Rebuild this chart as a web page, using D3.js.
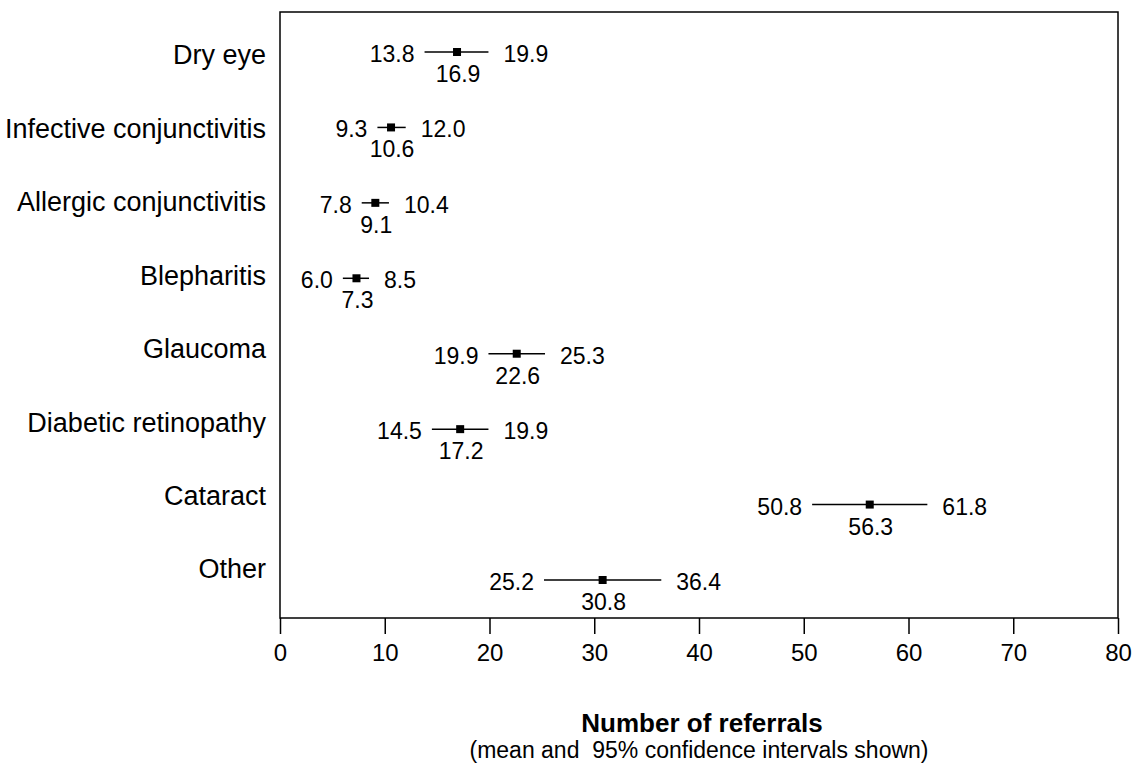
<!DOCTYPE html>
<html><head><meta charset="utf-8">
<script src="https://cdn.jsdelivr.net/npm/d3@7"></script>
<style>body{margin:0;background:#fff}text{font-family:Arial,"Liberation Sans",sans-serif}</style>
</head><body>
<svg id="c" width="1137" height="766"></svg>
<script>
const categories=["Dry eye","Infective conjunctivitis","Allergic conjunctivitis","Blepharitis","Glaucoma","Diabetic retinopathy","Cataract","Other"];
const means=[16.9,10.6,9.1,7.3,22.6,17.2,56.3,30.8];
const lower=[13.8,9.3,7.8,6.0,19.9,14.5,50.8,25.2];
const upper=[19.9,12.0,10.4,8.5,25.3,19.9,61.8,36.4];
const ticks=[0,10,20,30,40,50,60,70,80];

const svg=d3.select("#c");
const L=280,R=1118,T=12,B=618;
const x=d3.scaleLinear().domain([0,80]).range([L,R]);
const y=d3.scalePoint().domain(categories).range([52,580]);
const yl=d3.scalePoint().domain(categories).range([55,569]);

svg.append("rect").attr("x",L).attr("y",T).attr("width",R-L).attr("height",B-T)
  .attr("fill","none").attr("stroke","#000").attr("stroke-width",1.5);

const ax=svg.append("g").attr("transform",`translate(0,${B})`)
  .call(d3.axisBottom(x).tickValues(ticks).tickSize(16).tickPadding(10).tickFormat(d3.format("d")));
ax.select(".domain").remove();
ax.selectAll("line").attr("stroke-width",1.5);
ax.selectAll("text").attr("font-size",24).attr("fill","#000");

svg.append("g").selectAll("text").data(categories).join("text")
  .attr("x",266).attr("y",d=>yl(d)).attr("dy","0.35em").attr("text-anchor","end")
  .attr("font-size",27).text(d=>d);

const g=svg.append("g").selectAll("g").data(categories).join("g");
g.append("line").attr("x1",(d,i)=>x(lower[i])).attr("x2",(d,i)=>x(upper[i]))
  .attr("y1",d=>y(d)).attr("y2",d=>y(d)).attr("stroke","#000").attr("stroke-width",1.5);
g.append("rect").attr("x",(d,i)=>x(means[i])-4).attr("y",d=>y(d)-4).attr("width",8).attr("height",8).attr("fill","#000");
g.append("text").attr("x",(d,i)=>x(lower[i])-10).attr("y",d=>y(d)+2).attr("dy","0.35em")
  .attr("text-anchor","end").attr("font-size",23).text((d,i)=>lower[i].toFixed(1));
g.append("text").attr("x",(d,i)=>x(upper[i])+15).attr("y",d=>y(d)+2).attr("dy","0.35em")
  .attr("text-anchor","start").attr("font-size",23).text((d,i)=>upper[i].toFixed(1));
g.append("text").attr("x",(d,i)=>x(means[i])+1).attr("y",d=>y(d)+22).attr("dy","0.35em")
  .attr("text-anchor","middle").attr("font-size",23).text((d,i)=>means[i].toFixed(1));

svg.append("text").attr("x",702).attr("y",732).attr("text-anchor","middle")
  .attr("font-size",26).attr("font-weight","bold").text("Number of referrals");
svg.append("text").attr("x",699).attr("y",758).attr("text-anchor","middle")
  .attr("font-size",23).style("white-space","pre").text("(mean and  95% confidence intervals shown)");
</script>
</body></html>
